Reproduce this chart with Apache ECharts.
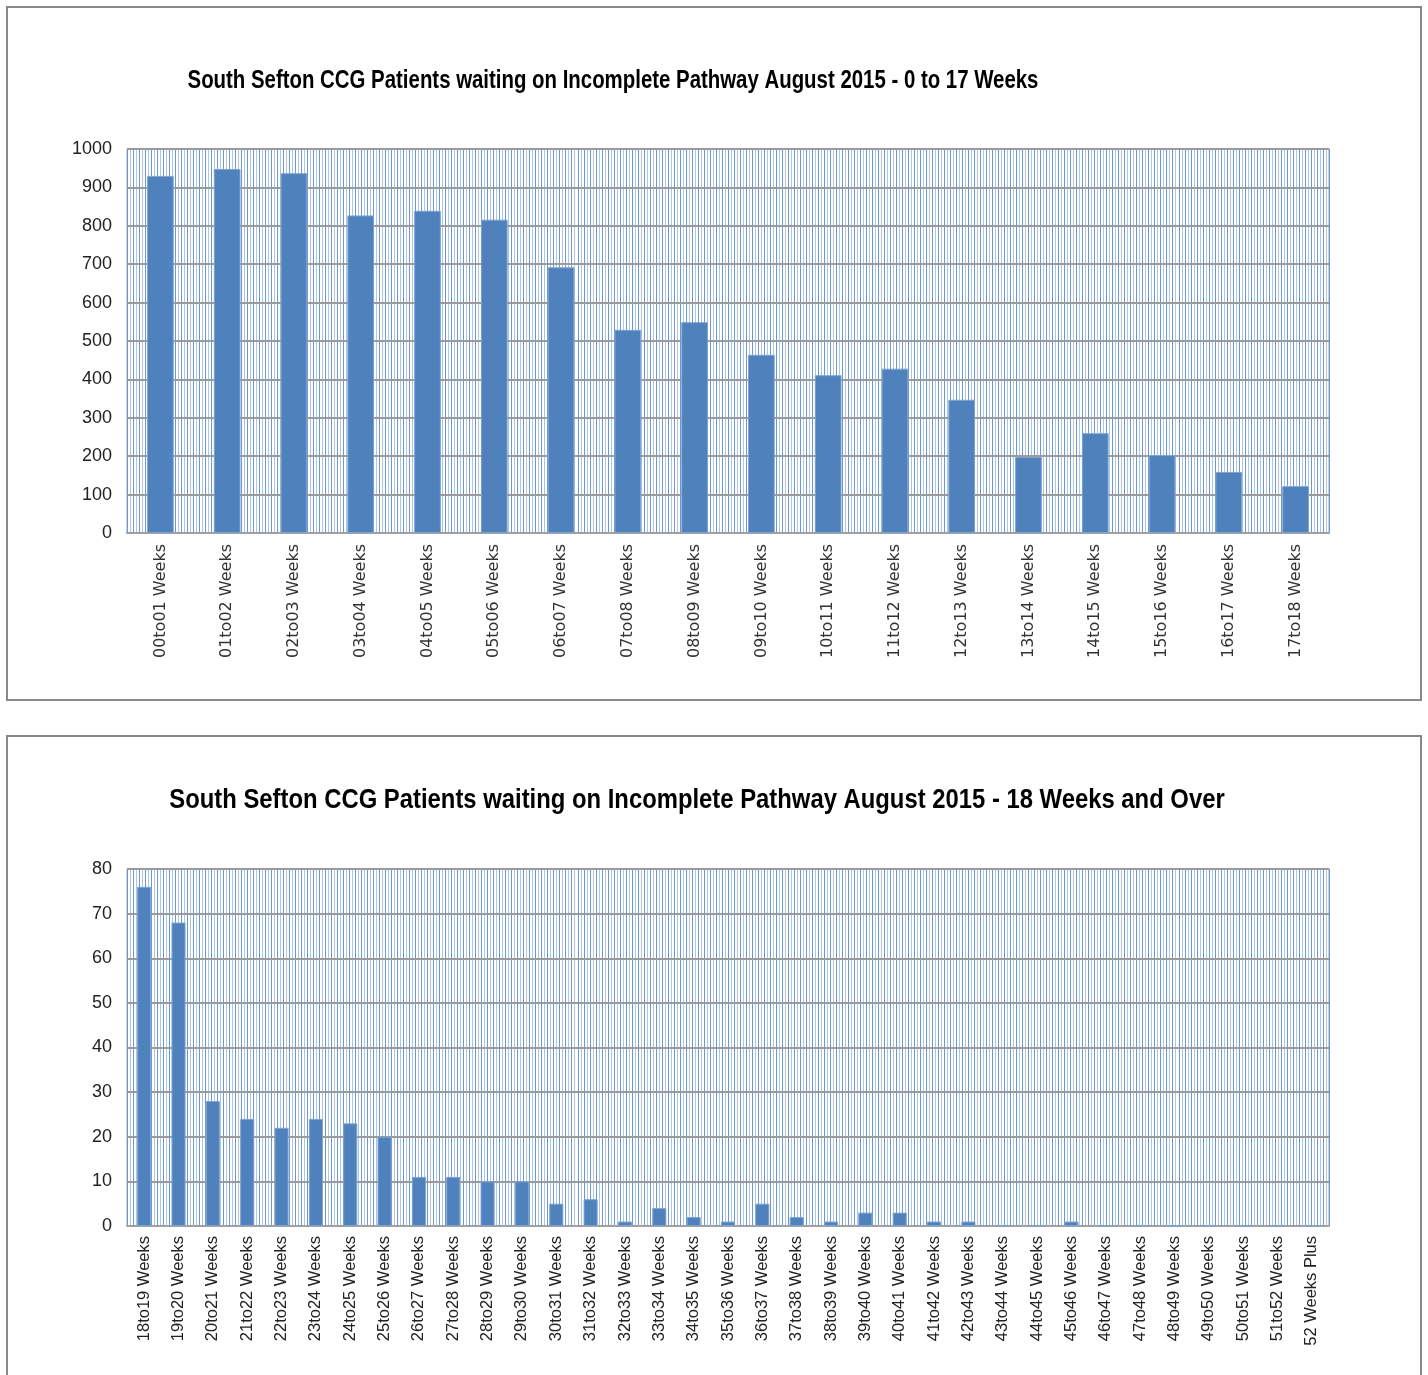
<!DOCTYPE html>
<html>
<head>
<meta charset="utf-8">
<script src="https://cdn.jsdelivr.net/npm/echarts@6/dist/echarts.min.js"></script>
<style>
html,body{margin:0;padding:0;background:#fff;}
#c{width:1428px;height:1375px;}
</style>
</head>
<body>
<div id="c"></div>
<script>
const topTitle = 'South Sefton CCG Patients waiting on Incomplete Pathway August 2015 - 0 to 17 Weeks';
const bottomTitle = 'South Sefton CCG Patients waiting on Incomplete Pathway August 2015 - 18 Weeks and Over';

const topCategories = ['00to01 Weeks','01to02 Weeks','02to03 Weeks','03to04 Weeks','04to05 Weeks','05to06 Weeks',
  '06to07 Weeks','07to08 Weeks','08to09 Weeks','09to10 Weeks','10to11 Weeks','11to12 Weeks',
  '12to13 Weeks','13to14 Weeks','14to15 Weeks','15to16 Weeks','16to17 Weeks','17to18 Weeks'];
const topValues = [930, 948, 937, 827, 839, 816, 692, 529, 549, 464, 411, 428, 347, 198, 260, 203, 159, 122];
const topTicks = [0, 100, 200, 300, 400, 500, 600, 700, 800, 900, 1000];

const bottomCategories = ['18to19 Weeks','19to20 Weeks','20to21 Weeks','21to22 Weeks','22to23 Weeks','23to24 Weeks',
  '24to25 Weeks','25to26 Weeks','26to27 Weeks','27to28 Weeks','28to29 Weeks','29to30 Weeks','30to31 Weeks',
  '31to32 Weeks','32to33 Weeks','33to34 Weeks','34to35 Weeks','35to36 Weeks','36to37 Weeks','37to38 Weeks',
  '38to39 Weeks','39to40 Weeks','40to41 Weeks','41to42 Weeks','42to43 Weeks','43to44 Weeks','44to45 Weeks',
  '45to46 Weeks','46to47 Weeks','47to48 Weeks','48to49 Weeks','49to50 Weeks','50to51 Weeks','51to52 Weeks',
  '52 Weeks Plus'];
const bottomValues = [76, 68, 28, 24, 22, 24, 23, 20, 11, 11, 10, 10, 5, 6, 1, 4, 2, 1, 5, 2, 1, 3, 3, 1, 1, 0, 0, 1, 0, 0, 0, 0, 0, 0, 0];
const bottomTicks = [0, 10, 20, 30, 40, 50, 60, 70, 80];

const barColor = '#4F81BD';
const gridLineColor = '#9a9a9a';
const hatchColors = ['#6b98d4', '#aac5e8'];
const sans = "'Liberation Sans', Arial, sans-serif";

const chart = echarts.init(document.getElementById('c'), null, {renderer: 'canvas'});

function hatchAxis(gridIndex) {
  return {
    type: 'value', gridIndex: gridIndex, min: 0, max: 400, interval: 1,
    show: true, position: 'top', z: 0,
    axisLine: {show: false}, axisTick: {show: false}, axisLabel: {show: false},
    splitLine: {show: true, lineStyle: {color: hatchColors, width: 1}}
  };
}

const option = {
  animation: false,
  backgroundColor: '#ffffff',
  graphic: [
    {type: 'rect', shape: {x: 7, y: 7, width: 1414, height: 693}, style: {fill: null, stroke: '#888888', lineWidth: 2}, z: 100},
    {type: 'rect', shape: {x: 7, y: 736, width: 1414, height: 700}, style: {fill: null, stroke: '#888888', lineWidth: 2}, z: 100},
    {type: 'text', x: 613, y: 81, scaleX: 0.816, z: 100, style: {text: topTitle, textAlign: 'center', textVerticalAlign: 'middle',
      font: "bold 25px " + sans, fill: '#000'}},
    {type: 'text', x: 697, y: 801, scaleX: 0.883, z: 100, style: {text: bottomTitle, textAlign: 'center', textVerticalAlign: 'middle',
      font: "bold 27px " + sans, fill: '#000'}}
  ],
  grid: [
    {left: 127, width: 1202, top: 149, height: 384, show: true, backgroundColor: '#fff', borderColor: '#a0a0a0', borderWidth: 1},
    {left: 127, width: 1202, top: 869, height: 357, show: true, backgroundColor: '#fff', borderColor: '#a0a0a0', borderWidth: 1}
  ],
  xAxis: [
    {type: 'category', gridIndex: 0, data: topCategories, z: 2,
      axisLine: {show: true, lineStyle: {color: '#a0a0a0', width: 2}}, axisTick: {show: false},
      axisLabel: {rotate: 90, margin: 11, color: '#333', fontFamily: 'DejaVu Sans', fontSize: 16, interval: 0},
      splitLine: {show: false}},
    {type: 'category', gridIndex: 1, data: bottomCategories, z: 2,
      axisLine: {show: true, lineStyle: {color: '#a0a0a0', width: 2}}, axisTick: {show: false},
      axisLabel: {rotate: 90, margin: 10, color: '#222', fontFamily: 'Liberation Sans', fontSize: 16.5, interval: 0},
      splitLine: {show: false}},
    hatchAxis(0),
    hatchAxis(1)
  ],
  yAxis: [
    {type: 'value', gridIndex: 0, min: topTicks[0], max: topTicks[topTicks.length - 1], interval: topTicks[1] - topTicks[0], z: 1,
      axisLine: {show: false}, axisTick: {show: false},
      axisLabel: {margin: 15, color: '#222', fontFamily: sans, fontSize: 18, formatter: function (v) { return String(v); }},
      splitLine: {show: true, lineStyle: {color: gridLineColor, width: 2}}},
    {type: 'value', gridIndex: 1, min: bottomTicks[0], max: bottomTicks[bottomTicks.length - 1], interval: bottomTicks[1] - bottomTicks[0], z: 1,
      axisLine: {show: false}, axisTick: {show: false},
      axisLabel: {margin: 15, color: '#222', fontFamily: sans, fontSize: 18, formatter: function (v) { return String(v); }},
      splitLine: {show: true, lineStyle: {color: gridLineColor, width: 2}}}
  ],
  series: [
    {type: 'bar', xAxisIndex: 0, yAxisIndex: 0, data: topValues, barWidth: '40%', z: 5,
      itemStyle: {color: barColor, borderColor: '#7ea3d0', borderWidth: 1}},
    {type: 'bar', xAxisIndex: 1, yAxisIndex: 1, data: bottomValues, barWidth: '41%', z: 5,
      itemStyle: {color: barColor, borderColor: '#7ea3d0', borderWidth: 1}}
  ]
};
chart.setOption(option);
</script>
</body>
</html>
